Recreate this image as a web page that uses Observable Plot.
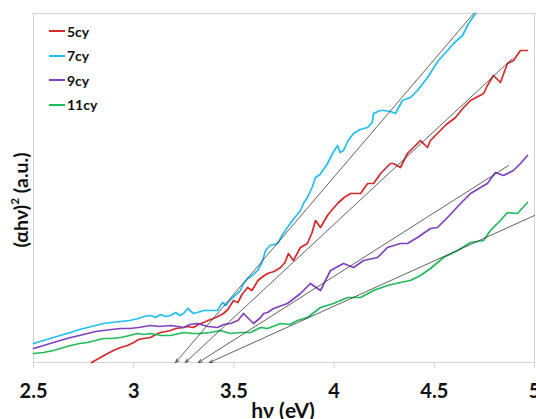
<!DOCTYPE html>
<html>
<head>
<meta charset="utf-8">
<script src="https://cdn.jsdelivr.net/npm/d3@7"></script>
<script src="https://cdn.jsdelivr.net/npm/@observablehq/plot@0.6"></script>
<style>
  html, body { margin: 0; padding: 0; background: white; }
  #wrap { position: relative; width: 536px; height: 419px; overflow: hidden; font-family: Lato, "DejaVu Sans", sans-serif; }
  .lbl { position: absolute; font-weight: bold; color: #111; white-space: nowrap; }
  #legend { position: absolute; left: 49px; top: 19px; }
  .row { height: 24.5px; display: flex; align-items: center; font-weight: bold; font-size: 14px; color: #111; }
  .sw { width: 16px; height: 2px; margin-right: 2px; }
</style>
</head>
<body>
<div id="wrap"></div>
<script>
// ---- data (hv in eV, (αhv)^2 in arbitrary units) ----
const seriesNames = ["5cy", "7cy", "9cy", "11cy"];
const seriesColors = ["#d42a2a", "#22bdf5", "#8040c0", "#1fba5a"];
const xTicks = [2.5, 3, 3.5, 4, 4.5, 5];

const cy5 = [[2.79,0],[2.834,5],[2.87,9],[2.899,12],[2.934,15],[2.969,17],[3.0,20],[3.024,23],[3.05,24],[3.084,25],[3.11,28],[3.134,30],[3.16,31],[3.184,32],[3.21,34],[3.249,35],[3.27,36],[3.298,35],[3.323,38],[3.348,40],[3.383,43],[3.398,44],[3.42,46],[3.448,49],[3.47,53],[3.498,62],[3.52,60],[3.54,68],[3.568,75],[3.59,72],[3.62,82],[3.645,86],[3.668,89],[3.7,91],[3.733,95],[3.755,100],[3.772,109],[3.797,102],[3.832,115],[3.867,119],[3.89,130],[3.907,142],[3.932,135],[3.97,148],[4.017,159],[4.05,165],[4.082,169],[4.132,169],[4.167,179],[4.197,179],[4.232,189],[4.281,199],[4.296,199],[4.331,195],[4.366,209],[4.416,219],[4.431,222],[4.466,215],[4.481,222],[4.52,230],[4.56,238],[4.606,245],[4.646,255],[4.681,262],[4.746,269],[4.765,277],[4.795,287],[4.83,280],[4.865,299],[4.895,302],[4.93,312],[4.965,312]];

const cy7 = [[2.5,19],[2.55,22],[2.6,25],[2.65,28],[2.685,30],[2.73,33],[2.769,35],[2.81,37],[2.849,39],[2.89,40],[2.934,41],[2.98,42],[3.024,44],[3.05,46],[3.084,47],[3.11,45],[3.134,48],[3.16,46],[3.184,47],[3.21,50],[3.23,47],[3.249,49],[3.27,54],[3.298,49],[3.318,50],[3.35,52],[3.383,52],[3.418,52],[3.443,60],[3.46,57],[3.483,63],[3.5,66],[3.533,72],[3.548,79],[3.57,84],[3.598,88],[3.618,92],[3.64,100],[3.658,112],[3.68,117],[3.7,118],[3.718,119],[3.74,127],[3.767,135],[3.8,144],[3.832,152],[3.85,160],[3.867,165],[3.89,175],[3.907,185],[3.93,188],[3.967,199],[3.99,208],[4.017,217],[4.03,210],[4.047,212],[4.07,222],[4.097,229],[4.13,233],[4.167,235],[4.19,240],[4.197,249],[4.23,252],[4.247,252],[4.281,251],[4.306,249],[4.341,262],[4.381,265],[4.416,272],[4.466,285],[4.521,302],[4.566,312],[4.596,319],[4.641,327],[4.671,339],[4.706,349]];

const cy9 = [[2.5,14],[2.55,17],[2.6,20],[2.65,23],[2.685,25],[2.73,27],[2.769,29],[2.81,31],[2.849,32],[2.89,33],[2.934,34],[2.98,34],[3.024,35],[3.084,37],[3.13,36],[3.184,37],[3.22,36],[3.249,35],[3.28,38],[3.318,39],[3.37,36],[3.418,35],[3.45,38],[3.483,39],[3.52,42],[3.548,49],[3.568,45],[3.598,39],[3.633,45],[3.648,49],[3.668,50],[3.698,54],[3.74,57],[3.767,59],[3.8,64],[3.832,69],[3.882,79],[3.932,72],[3.982,92],[4.047,99],[4.097,95],[4.147,102],[4.217,105],[4.266,115],[4.331,119],[4.366,119],[4.416,125],[4.481,134],[4.516,135],[4.566,145],[4.631,159],[4.681,169],[4.731,175],[4.765,179],[4.805,190],[4.845,187],[4.895,192],[4.93,199],[4.965,207]];

const cy11 = [[2.5,9],[2.55,10],[2.6,12],[2.65,15],[2.685,17],[2.73,19],[2.769,20],[2.81,22],[2.849,24],[2.89,24],[2.934,25],[2.98,27],[3.019,29],[3.05,28],[3.084,29],[3.134,27],[3.184,27],[3.249,30],[3.298,29],[3.333,29],[3.383,30],[3.433,32],[3.483,29],[3.533,30],[3.583,30],[3.633,35],[3.668,34],[3.733,39],[3.78,38],[3.817,42],[3.867,45],[3.9,50],[3.932,55],[3.997,59],[4.067,65],[4.132,65],[4.197,72],[4.266,77],[4.331,80],[4.38,82],[4.431,87],[4.481,94],[4.546,105],[4.616,112],[4.681,120],[4.746,122],[4.78,132],[4.83,142],[4.865,150],[4.915,149],[4.965,160]];

// tangent (Tauc extrapolation) lines: upper end -> x-axis intercept
const tangentTop = [[4.696,349],[4.890,304],[4.870,197],[5.0,147]];
const tangentIntercept = [3.209, 3.258, 3.323, 3.378];

// ---- build tables ----
const allSeries = [cy5, cy7, cy9, cy11];
const rows = [];
allSeries.forEach((s, i) => s.forEach(([x, y]) => rows.push({x, y, series: seriesNames[i]})));
const tangents = tangentTop.map(([x, y], i) => ({x1: x, y1: y, x2: tangentIntercept[i], y2: 0}));

const chart = Plot.plot({
  width: 536,
  height: 419,
  marginLeft: 33,
  marginRight: 2,
  marginTop: 13,
  marginBottom: 57,
  style: {fontFamily: "Lato, 'DejaVu Sans', sans-serif", background: "white", overflow: "visible"},
  x: {domain: [2.5, 5]},
  y: {domain: [0, 349], axis: null},
  color: {domain: seriesNames, range: seriesColors},
  marks: [
    Plot.frame({stroke: "#d4d4d4", strokeWidth: 1}),
    Plot.axisX({ticks: xTicks, tickFormat: d => String(d), tickSize: 6, tickPadding: 15,
      stroke: "#d4d4d4", fill: "#111", fontSize: 20, fontWeight: "bold", label: null}),
    Plot.line(rows, {x: "x", y: "y", z: "series", stroke: "series", strokeWidth: 1.7, strokeLinejoin: "round"}),
    Plot.arrow(tangents, {x1: "x1", y1: "y1", x2: "x2", y2: "y2", stroke: "#3a3a3a", strokeWidth: 0.8, headLength: 7, headAngle: 45})
  ]
});

const wrap = document.getElementById("wrap");
wrap.appendChild(chart);

const xl = document.createElement("div");
xl.className = "lbl";
xl.textContent = "hν (eV)";
xl.style.fontSize = "21px";
xl.style.left = "283px";
xl.style.top = "397px";
xl.style.transform = "translateX(-50%)";
wrap.appendChild(xl);

const yl = document.createElement("div");
yl.className = "lbl";
yl.innerHTML = "(αhν)<sup style='font-size:0.6em;vertical-align:0.7em;line-height:0'>2</sup> (a.u.)";
yl.style.fontSize = "19.5px";
yl.style.left = "20px";
yl.style.top = "200px";
yl.style.transform = "translate(-50%,-50%) rotate(-90deg)";
wrap.appendChild(yl);

const lg = document.createElement("div");
lg.id = "legend";
seriesNames.forEach((n, i) => {
  const r = document.createElement("div");
  r.className = "row";
  const sw = document.createElement("div");
  sw.className = "sw";
  sw.style.background = seriesColors[i];
  r.appendChild(sw);
  const t = document.createElement("span");
  t.textContent = n;
  r.appendChild(t);
  lg.appendChild(r);
});
wrap.appendChild(lg);
</script>
</body>
</html>
